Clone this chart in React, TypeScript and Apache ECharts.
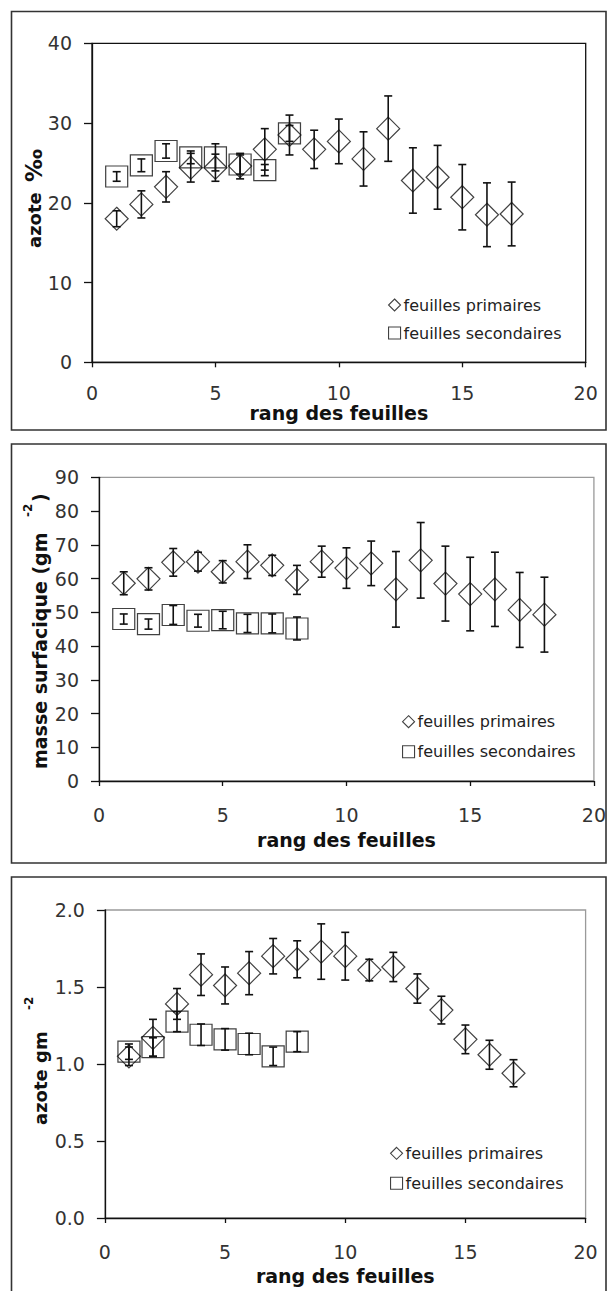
import React, { useEffect, useRef } from 'react';
import * as echarts from 'echarts';

// ---------- data ----------
const ranks17 = [1, 2, 3, 4, 5, 6, 7, 8, 9, 10, 11, 12, 13, 14, 15, 16, 17];
const ranks18 = [1, 2, 3, 4, 5, 6, 7, 8, 9, 10, 11, 12, 13, 14, 15, 16, 17, 18];
const ranks8 = [1, 2, 3, 4, 5, 6, 7, 8];

// panel 1 : azote ‰
const azotePrim = [18.0, 19.8, 22.0, 24.4, 24.4, 24.6, 26.7, 28.5, 26.7, 27.7, 25.5, 29.3, 22.8, 23.2, 20.7, 18.5, 18.6];
const azotePrimErr = [1.0, 1.7, 1.9, 1.8, 1.7, 1.6, 2.6, 2.5, 2.4, 2.8, 3.4, 4.1, 4.1, 4.0, 4.1, 4.0, 4.0];
const azoteSec = [23.3, 24.7, 26.5, 25.7, 25.7, 24.8, 24.1, 28.7];
const azoteSecErr = [0.6, 0.8, 0.9, 0.8, 1.7, 1.2, 0.7, 1.0];

// panel 2 : masse surfacique (g m-2)
const massePrim = [58.6, 59.9, 64.8, 65.0, 62.0, 65.0, 63.9, 59.6, 65.0, 63.1, 64.5, 56.8, 65.4, 58.5, 55.4, 56.8, 50.7, 49.3];
const massePrimErr = [3.4, 3.3, 4.1, 2.8, 3.3, 5.0, 3.0, 4.3, 4.6, 6.0, 6.6, 11.2, 11.2, 11.1, 10.9, 11.0, 11.1, 11.1];
const masseSec = [48.0, 46.5, 49.2, 47.5, 47.7, 46.7, 46.7, 45.2];
const masseSecErr = [1.5, 1.5, 2.8, 1.9, 2.6, 2.7, 2.8, 3.4];

// panel 3 : azote g m-2
const azoteSurfPrim = [1.05, 1.17, 1.39, 1.58, 1.51, 1.59, 1.70, 1.68, 1.73, 1.70, 1.61, 1.63, 1.49, 1.35, 1.16, 1.06, 0.94];
const azoteSurfPrimErr = [0.06, 0.12, 0.10, 0.135, 0.12, 0.14, 0.115, 0.12, 0.18, 0.155, 0.07, 0.095, 0.095, 0.09, 0.093, 0.094, 0.088];
const azoteSurfSec = [1.08, 1.11, 1.275, 1.19, 1.16, 1.13, 1.05, 1.145];
const azoteSurfSecErr = [0.05, 0.06, 0.065, 0.07, 0.07, 0.07, 0.06, 0.065];

const xTicks = [0, 5, 10, 15, 20];
const legendNames = ['feuilles primaires', 'feuilles secondaires'];
const xTitle = 'rang des feuilles';

// ---------- styling ----------
const FONT = '"DejaVu Sans", Arial, sans-serif';
const INK = '#111';

function scatter(name: string, xs: number[], ys: number[], gi: number, symbol: string, size: number[]) {
  return {
    type: 'scatter',
    name,
    xAxisIndex: gi,
    yAxisIndex: gi,
    data: xs.map((x, i) => [x, ys[i]]),
    symbol,
    symbolSize: size,
    itemStyle: { color: 'rgba(0,0,0,0)', borderColor: INK, borderWidth: 1.2 },
    emphasis: { disabled: true },
    silent: true,
    z: 3,
  };
}

function errBars(id: string, xs: number[], ys: number[], es: number[], gi: number) {
  return {
    type: 'custom',
    id,
    xAxisIndex: gi,
    yAxisIndex: gi,
    data: xs.map((x, i) => [x, ys[i], es[i]]),
    encode: { x: 0, y: 1 },
    silent: true,
    z: 4,
    renderItem: (_p: any, api: any) => {
      const x = api.value(0);
      const y = api.value(1);
      const e = api.value(2);
      const top = api.coord([x, y + e]);
      const bot = api.coord([x, y - e]);
      const cw = 4;
      const st = { stroke: INK, lineWidth: 1.6 };
      return {
        type: 'group',
        children: [
          { type: 'line', shape: { x1: top[0], y1: top[1], x2: bot[0], y2: bot[1] }, style: st },
          { type: 'line', shape: { x1: top[0] - cw, y1: top[1], x2: top[0] + cw, y2: top[1] }, style: st },
          { type: 'line', shape: { x1: bot[0] - cw, y1: bot[1], x2: bot[0] + cw, y2: bot[1] }, style: st },
        ],
      };
    },
  };
}

function xAxis(gi: number, labelMargin: number, nameGap: number) {
  return {
    type: 'value',
    gridIndex: gi,
    min: 0,
    max: 20,
    interval: 5,
    name: xTitle,
    nameLocation: 'middle',
    nameGap,
    nameTextStyle: { fontFamily: FONT, fontWeight: 'bold', fontSize: 19, color: INK },
    axisLine: { show: true, lineStyle: { color: INK, width: 1.3 } },
    axisTick: { show: true, length: 5, lineStyle: { color: INK, width: 1.3 } },
    axisLabel: {
      margin: labelMargin,
      fontFamily: FONT,
      fontSize: 19,
      color: '#333',
      customValues: xTicks,
    },
    splitLine: { show: false },
  };
}

function yAxis(gi: number, max: number, interval: number, fmt?: (v: number) => string) {
  return {
    type: 'value',
    gridIndex: gi,
    min: 0,
    max,
    interval,
    axisLine: { show: true, lineStyle: { color: INK, width: 1.3 } },
    axisTick: { show: true, length: 8, lineStyle: { color: INK, width: 1.3 } },
    axisLabel: {
      margin: 20,
      fontFamily: FONT,
      fontSize: 19,
      color: '#333',
      formatter: fmt,
    },
    splitLine: { show: false },
  };
}

function legend(left: number, top: number, gap: number) {
  return {
    left,
    top,
    orient: 'vertical',
    padding: 0,
    itemGap: gap,
    itemWidth: 12,
    itemHeight: 12,
    selectedMode: false,
    data: [
      { name: legendNames[0], icon: 'diamond' },
      { name: legendNames[1], icon: 'rect' },
    ],
    itemStyle: { color: 'rgba(0,0,0,0)', borderColor: INK, borderWidth: 1.1 },
    textStyle: { fontFamily: FONT, fontSize: 16, color: '#222', lineHeight: 18, padding: [0, 0, 0, -2] },
  };
}

function panelBox(y: number, h: number) {
  return {
    type: 'rect',
    shape: { x: 11.5, y, width: 594.5, height: h },
    style: { fill: 'none', stroke: '#333', lineWidth: 1.6 },
    silent: true,
  };
}

function yTitle(cx: number, cy: number, parts: { text: string; x: number; y?: number; size?: number; family?: string }[]) {
  return {
    type: 'group',
    x: cx,
    y: cy,
    rotation: Math.PI / 2,
    children: parts.map((p) => ({
      type: 'text',
      x: p.x,
      y: p.y || 0,
      style: {
        text: p.text,
        font: `bold ${p.size || 18}px ${p.family || FONT}`,
        fill: INK,
        align: 'left',
        verticalAlign: 'middle',
      },
    })),
  };
}

export default function App() {
  const ref = useRef<HTMLDivElement>(null);
  useEffect(() => {
    if (!ref.current) return;
    const chart = echarts.init(ref.current, null, { renderer: 'svg' });
    const option: any = {
      animation: false,
      backgroundColor: '#fff',
      grid: [
        { left: 92, top: 43.3, width: 493.7, height: 319, show: true, borderColor: '#111', borderWidth: 1.3, backgroundColor: 'transparent' },
        { left: 99, top: 477.3, width: 495, height: 303.7, show: true, borderColor: '#9a9a9a', borderWidth: 1.3, backgroundColor: 'transparent' },
        { left: 104.9, top: 910, width: 480.7, height: 308, show: true, borderColor: '#9a9a9a', borderWidth: 1.3, backgroundColor: 'transparent' },
      ],
      xAxis: [xAxis(0, 21, 40), xAxis(1, 24, 49), xAxis(2, 24, 48)],
      yAxis: [
        yAxis(0, 40, 10),
        yAxis(1, 90, 10),
        yAxis(2, 2, 0.5, (v: number) => v.toFixed(1)),
      ],
      legend: [legend(388, 296, 10), legend(402, 712.7, 12), legend(390, 1144.3, 12)],
      series: [
        scatter(legendNames[0], ranks17, azotePrim, 0, 'diamond', [23, 23]),
        scatter(legendNames[1], ranks8, azoteSec, 0, 'rect', [22, 21]),
        errBars('e1p', ranks17, azotePrim, azotePrimErr, 0),
        errBars('e1s', ranks8, azoteSec, azoteSecErr, 0),

        scatter(legendNames[0], ranks18, massePrim, 1, 'diamond', [23, 23]),
        scatter(legendNames[1], ranks8, masseSec, 1, 'rect', [22, 21]),
        errBars('e2p', ranks18, massePrim, massePrimErr, 1),
        errBars('e2s', ranks8, masseSec, masseSecErr, 1),

        scatter(legendNames[0], ranks17, azoteSurfPrim, 2, 'diamond', [23, 23]),
        scatter(legendNames[1], ranks8, azoteSurfSec, 2, 'rect', [22, 21]),
        errBars('e3p', ranks17, azoteSurfPrim, azoteSurfPrimErr, 2),
        errBars('e3s', ranks8, azoteSurfSec, azoteSurfSecErr, 2),
      ],
      graphic: [
        panelBox(11.5, 418.5),
        panelBox(444, 419),
        panelBox(877, 430),
        yTitle(34, 204, [
          { text: 'azote', x: -44 },
          { text: '\u2030', x: 22, size: 23 },
        ]),
        yTitle(40, 629, [
          { text: 'masse surfacique (gm', x: -140, size: 19 },
          { text: '-2', x: 112, y: -12, size: 12 },
          { text: ')', x: 127, size: 19 },
        ]),
        yTitle(40, 1066, [
          { text: 'azote gm', x: -59 },
          { text: '-2', x: 56, y: -11, size: 12 },
        ]),
      ],
    };
    chart.setOption(option);
    return () => chart.dispose();
  }, []);
  return (
    <div
      ref={ref}
      style={{ position: 'absolute', left: 0, top: 0, width: 609, height: 1291, background: '#fff' }}
    />
  );
}
